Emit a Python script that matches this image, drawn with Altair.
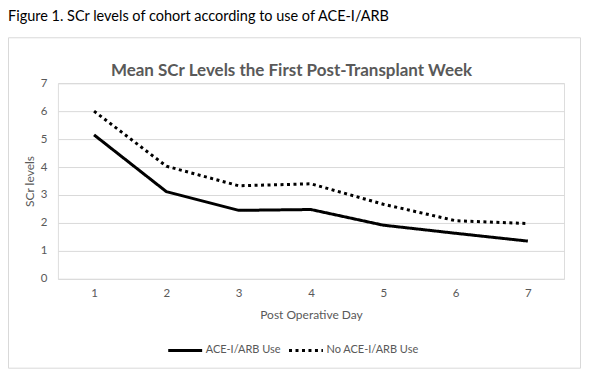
import altair as alt
import pandas as pd

days = [1, 2, 3, 4, 5, 6, 7]
ace_use = [5.15, 3.12, 2.45, 2.48, 1.92, 1.63, 1.35]
no_ace_use = [6.0, 4.03, 3.33, 3.40, 2.67, 2.08, 1.98]
series_names = ["ACE-I/ARB Use", "No ACE-I/ARB Use"]
caption = "Figure 1. SCr levels of cohort according to use of ACE-I/ARB"
chart_title = "Mean SCr Levels the First Post-Transplant Week"

rows = []
for d, a, b in zip(days, ace_use, no_ace_use):
    rows.append({"day": d, "value": a, "series": series_names[0]})
    rows.append({"day": d, "value": b, "series": series_names[1]})
df = pd.DataFrame(rows)

FONT = "Lato"
GREY = "#595959"
W, H = 507, 196

lines = alt.Chart(df).mark_line(strokeWidth=3, color="black").encode(
    x=alt.X("day:O", scale=alt.Scale(type="point", padding=0.5),
            axis=alt.Axis(title="Post Operative Day", labelAngle=0, domain=False, ticks=False,
                          grid=False, labelPadding=9, labelColor=GREY, labelFontSize=11.5,
                          labelFont=FONT, titleFont=FONT, titleFontSize=12, titleColor=GREY,
                          titleFontWeight="normal", titleY=36, titleBaseline="middle")),
    y=alt.Y("value:Q", scale=alt.Scale(domain=[0, 7], nice=False),
            axis=alt.Axis(title="SCr levels", values=[0, 1, 2, 3, 4, 5, 6, 7], domain=False,
                          ticks=False, grid=True, gridColor="#d9d9d9", gridWidth=1,
                          labelPadding=11, labelColor=GREY, labelFontSize=11.5, labelFont=FONT,
                          titleFont=FONT, titleFontSize=12, titleColor=GREY,
                          titleFontWeight="normal", titleX=-28, titleY=H / 2,
                          titleBaseline="middle")),
    strokeDash=alt.StrokeDash("series:N",
                              scale=alt.Scale(domain=series_names, range=[[1, 0], [3, 3.5]]),
                              legend=alt.Legend(title=None, orient="none", direction="horizontal",
                                                legendX=109, legendY=249, symbolType="stroke",
                                                symbolSize=1156, symbolStrokeWidth=3,
                                                symbolStrokeColor="black", labelFont=FONT,
                                                labelFontSize=11, labelColor=GREY,
                                                labelOffset=2, columnPadding=1)),
)

frame_df = pd.DataFrame({"k": [0]})
frame = alt.Chart(frame_df).mark_rect(fillOpacity=0, stroke="#d9d9d9", strokeWidth=1).encode(
    x=alt.value(-49.5), x2=alt.value(523.5), y=alt.value(-45.5), y2=alt.value(285.5)
)
cap = alt.Chart(frame_df).mark_text(text=caption, font=FONT, fontSize=14.5, color="black",
                                    align="left", baseline="middle").encode(
    x=alt.value(-50), y=alt.value(-66)
)
ttl = alt.Chart(frame_df).mark_text(text=chart_title, font=FONT, fontSize=17, fontWeight="bold",
                                    color=GREY, align="center", baseline="middle").encode(
    x=alt.value(234), y=alt.value(-12)
)

chart = alt.layer(frame, cap, ttl, lines).properties(
    width=W, height=H,
    autosize=alt.AutoSizeParams(type="none"),
    padding={"left": 50, "top": 75, "right": 17, "bottom": 93},
).configure_view(stroke=None).configure(background="white")

chart.save("out.html", embed_options={"renderer": "svg", "actions": False})
